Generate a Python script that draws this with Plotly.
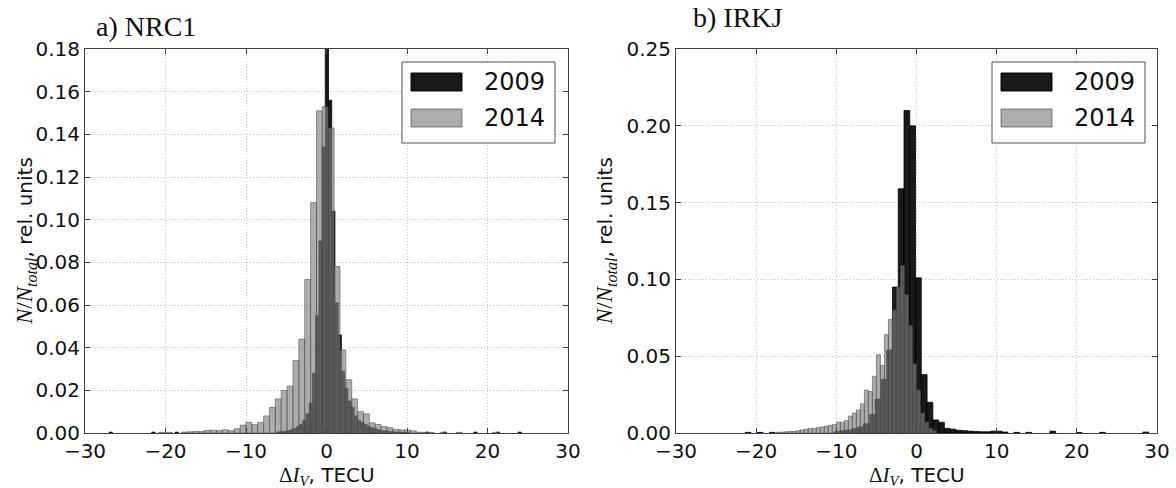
import numpy as np
import plotly.graph_objects as go

# ---------------- data ----------------
# a) NRC1, year 2009 (black) - bin width 0.4 TECU
nrc1_2009_first_center = -5.95
nrc1_2009_bin_width = 0.4
nrc1_2009_values = [0.0005, 0.0006, 0.0008, 0.001, 0.0015, 0.002, 0.003, 0.004,
                    0.006, 0.009, 0.014, 0.028, 0.055, 0.090, 0.134, 0.195,
                    0.156, 0.104, 0.061, 0.046, 0.029, 0.021, 0.015, 0.012,
                    0.008, 0.006, 0.005, 0.004, 0.003, 0.0025, 0.002, 0.0015,
                    0.001, 0.001, 0.0008, 0.0006, 0.0005, 0.0004, 0.0004, 0.0003,
                    0.0003]
nrc1_2009_outlier_x = [-26.8, -21.5, -18.6, 12.5, 14.7, 18.5, 21.3, 24.0]
nrc1_2009_outlier_y = [0.0004, 0.0004, 0.0004, 0.0004, 0.0004, 0.0004, 0.0004, 0.0004]

# a) NRC1, year 2014 (grey) - bin width 0.73 TECU
nrc1_2014_first_center = -17.67
nrc1_2014_bin_width = 0.73
nrc1_2014_values = [0.0004, 0.0006, 0.0007, 0.0008, 0.0012, 0.0013, 0.0011, 0.0015,
                    0.0011, 0.002, 0.0037, 0.005, 0.004, 0.005, 0.008, 0.012,
                    0.016, 0.020, 0.022, 0.034, 0.044, 0.072, 0.108, 0.151,
                    0.153, 0.143, 0.078, 0.039, 0.025, 0.016, 0.010, 0.009,
                    0.0048, 0.004, 0.003, 0.0025, 0.0017, 0.0015, 0.0014, 0.001,
                    0.0004, 0.0003, 0.0003]
nrc1_2014_outlier_x = [-20.5, -19.5, 14.5, 16.5, 21.0]
nrc1_2014_outlier_y = [0.0003, 0.0003, 0.0003, 0.0003, 0.0003]

# b) IRKJ, year 2009 (black) - bin width 0.72 TECU
irkj_2009_first_center = -9.84
irkj_2009_bin_width = 0.72
irkj_2009_values = [0.001, 0.0015, 0.002, 0.003, 0.004, 0.006, 0.012, 0.022,
                    0.035, 0.054, 0.095, 0.159, 0.210, 0.200, 0.101, 0.038,
                    0.020, 0.0085, 0.007, 0.003, 0.0025, 0.0018, 0.0015, 0.0012,
                    0.001, 0.0008, 0.0008, 0.0012, 0.0012, 0.0006]
irkj_2009_outlier_x = [-21.0, -19.5, -18.0, 12.5, 14.0, 17.0, 20.3, 23.2, 28.6]
irkj_2009_outlier_y = [0.0004, 0.0004, 0.0004, 0.0004, 0.0004, 0.0012, 0.0003, 0.0004, 0.0006]

# b) IRKJ, year 2014 (grey) - bin width 0.5 TECU
irkj_2014_first_center = -17.25
irkj_2014_bin_width = 0.5
irkj_2014_values = [0.0005, 0.0006, 0.0008, 0.001, 0.001, 0.0015, 0.002, 0.0025,
                    0.003, 0.003, 0.0035, 0.004, 0.0045, 0.005, 0.0055, 0.007,
                    0.007, 0.008, 0.011, 0.013, 0.015, 0.019, 0.028, 0.027,
                    0.037, 0.051, 0.044, 0.064, 0.074, 0.080, 0.095, 0.109,
                    0.090, 0.070, 0.045, 0.028, 0.013, 0.007, 0.003, 0.0015]

years = ["2009", "2014"]
panel_titles = ["a) NRC1", "b) IRKJ"]
x_ticks = [-30, -20, -10, 0, 10, 20, 30]
nrc1_y_ticks = [0.00, 0.02, 0.04, 0.06, 0.08, 0.10, 0.12, 0.14, 0.16, 0.18]
irkj_y_ticks = [0.00, 0.05, 0.10, 0.15, 0.20, 0.25]

# ---------------- styling ----------------
W, H = 1176, 488
BLACK_FILL = "rgba(0,0,0,0.9)"
BLACK_LINE = "rgba(0,0,0,0.95)"
GREY_FILL = "rgba(128,128,128,0.65)"
GREY_LINE = "rgba(70,70,70,0.65)"
FRAME = "#404040"
SANS = "DejaVu Sans"
SERIF = "Liberation Serif"

def px_x(p):
    return p / W

def px_y(p):
    return (H - p) / H

panels = [
    dict(xa="x", ya="y", left=85, right=568),
    dict(xa="x2", ya="y2", left=676, right=1157),
]
top_px, bottom_px = 49, 433

def centers(first, width, vals):
    return first + width * np.arange(len(vals))

fig = go.Figure()

def add_hist(p, first, width, vals, ox, oy, fill, line):
    xs = list(centers(first, width, vals)) + list(ox)
    ys = list(vals) + list(oy)
    fig.add_trace(go.Bar(
        x=xs, y=ys, width=width, xaxis=p["xa"], yaxis=p["ya"],
        marker=dict(color=fill, line=dict(color=line, width=0.8)),
        showlegend=False, hoverinfo="skip"))

add_hist(panels[0], nrc1_2009_first_center, nrc1_2009_bin_width, nrc1_2009_values,
         nrc1_2009_outlier_x, nrc1_2009_outlier_y, BLACK_FILL, BLACK_LINE)
add_hist(panels[0], nrc1_2014_first_center, nrc1_2014_bin_width, nrc1_2014_values,
         nrc1_2014_outlier_x, nrc1_2014_outlier_y, GREY_FILL, GREY_LINE)
add_hist(panels[1], irkj_2009_first_center, irkj_2009_bin_width, irkj_2009_values,
         irkj_2009_outlier_x, irkj_2009_outlier_y, BLACK_FILL, BLACK_LINE)
add_hist(panels[1], irkj_2014_first_center, irkj_2014_bin_width, irkj_2014_values,
         [], [], GREY_FILL, GREY_LINE)

common_axis = dict(
    showline=True, mirror="ticks", linecolor=FRAME, linewidth=1,
    ticks="inside", ticklen=5, tickcolor=FRAME, tickwidth=1,
    showgrid=True, gridcolor="#c4c4c4", griddash="1px,2px", gridwidth=1,
    zeroline=False, automargin=False,
    tickfont=dict(family=SANS, size=20, color="#111111"),
)

ydom = [px_y(bottom_px), px_y(top_px)]
layout = dict(
    width=W, height=H, margin=dict(l=0, r=0, t=0, b=0),
    paper_bgcolor="white", plot_bgcolor="white", barmode="overlay",
    showlegend=False,
    xaxis=dict(domain=[px_x(85), px_x(568)], range=[-30, 30], tickvals=x_ticks,
               anchor="y", **common_axis),
    yaxis=dict(domain=ydom, range=[0, 0.18], tickvals=nrc1_y_ticks, tickformat=".2f",
               anchor="x", **common_axis),
    xaxis2=dict(domain=[px_x(676), px_x(1157)], range=[-30, 30], tickvals=x_ticks,
                anchor="y2", **common_axis),
    yaxis2=dict(domain=ydom, range=[0, 0.25], tickvals=irkj_y_ticks, tickformat=".2f",
                anchor="x2", **common_axis),
)
fig.update_layout(**layout)

annotations = []
shapes = []

# panel titles
title_pos = [(94, 27), (691, 17)]
for (tx, ty), t in zip(title_pos, panel_titles):
    annotations.append(dict(text=t, x=px_x(tx), y=px_y(ty), xref="paper", yref="paper",
                            xanchor="left", yanchor="middle", showarrow=False,
                            font=dict(family=SERIF, size=28, color="#111111")))

ylab = (f"<span style=\"font-family:'{SERIF}'; font-size:23px\"><i>N</i>/<i>N</i><sub><i>total</i></sub></span>"
        ", rel. units")
xlab = (f"<span style=\"font-family:'{SERIF}'; font-size:21px\">Δ<i>I</i><sub><i>V</i></sub></span>"
        ", TECU")
for p, ylx in zip(panels, [26, 606]):
    annotations.append(dict(text=ylab, x=px_x(ylx), y=px_y((top_px + bottom_px) / 2),
                            xref="paper", yref="paper", xanchor="center", yanchor="middle",
                            textangle=-90, showarrow=False,
                            font=dict(family=SANS, size=20, color="#111111")))
    annotations.append(dict(text=xlab, x=px_x((p["left"] + p["right"]) / 2), y=px_y(488),
                            xref="paper", yref="paper", xanchor="center", yanchor="bottom",
                            showarrow=False, borderpad=0, yshift=-2,
                            font=dict(family=SANS, size=20, color="#111111")))

# legends (drawn manually to match big matplotlib patches)
legend_boxes = [(402, 555), (992, 1145)]
for (lx0, lx1) in legend_boxes:
    shapes.append(dict(type="rect", xref="paper", yref="paper", layer="above",
                       x0=px_x(lx0), x1=px_x(lx1), y0=px_y(143), y1=px_y(62),
                       line=dict(color="#505050", width=1), fillcolor="white"))
    px0 = lx0 + 9
    for (py0, py1), fill, line, yr in zip([(73, 91), (109, 127)],
                                          [BLACK_FILL, GREY_FILL],
                                          [BLACK_LINE, GREY_LINE], years):
        shapes.append(dict(type="rect", xref="paper", yref="paper", layer="above",
                           x0=px_x(px0), x1=px_x(px0 + 51), y0=px_y(py1), y1=px_y(py0),
                           line=dict(color=line, width=1), fillcolor=fill))
        annotations.append(dict(text=yr, x=px_x(px0 + 71), y=px_y((py0 + py1) / 2),
                                xref="paper", yref="paper", xanchor="left",
                                yanchor="middle", showarrow=False,
                                font=dict(family=SANS, size=24, color="#111111")))

fig.update_layout(annotations=annotations, shapes=shapes)
fig.write_html("out.html", config={"displayModeBar": False},
               post_script="document.body.style.margin='0';document.body.style.overflow='hidden';")
